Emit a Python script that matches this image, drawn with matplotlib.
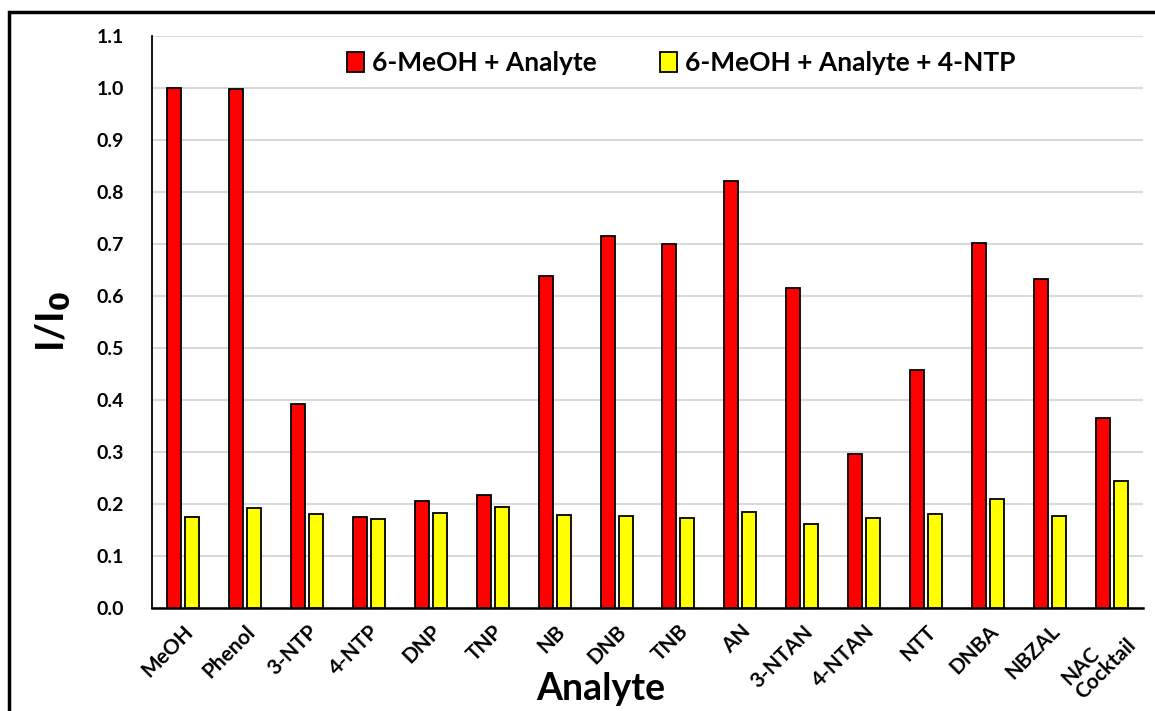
import numpy as np
import matplotlib
matplotlib.use("Agg")
import matplotlib.pyplot as plt
from matplotlib.patches import Rectangle

plt.rcParams['font.family'] = ['Lato', 'DejaVu Sans']

# data
analytes = ["MeOH", "Phenol", "3-NTP", "4-NTP", "DNP", "TNP", "NB", "DNB", "TNB",
            "AN", "3-NTAN", "4-NTAN", "NTT", "DNBA", "NBZAL", "NAC\nCocktail"]
analyte_only = [1.000, 0.998, 0.392, 0.175, 0.205, 0.216, 0.638, 0.715, 0.699,
                0.821, 0.615, 0.296, 0.457, 0.701, 0.633, 0.365]
with_4ntp = [0.175, 0.192, 0.180, 0.171, 0.182, 0.194, 0.178, 0.176, 0.173,
             0.183, 0.161, 0.172, 0.180, 0.208, 0.176, 0.243]
series_names = ["6-MeOH + Analyte", "6-MeOH + Analyte + 4-NTP"]
yticks = np.arange(0, 1.11, 0.1)

fig = plt.figure(figsize=(11.55, 7.11), dpi=100)
ax = fig.add_axes([0.1316, 0.1455, 0.8580, 0.8040])

x = np.arange(len(analytes))
w = 0.226
off = 0.145
ax.bar(x - off, analyte_only, w, color="#ff0000", edgecolor="black", linewidth=1.3,
       label=series_names[0], zorder=3)
ax.bar(x + off, with_4ntp, w, color="#ffff00", edgecolor="black", linewidth=1.3,
       label=series_names[1], zorder=3)

ax.set_xlim(-0.5, len(analytes) - 0.5)
ax.set_ylim(0, 1.1)
ax.set_yticks(yticks)
ax.set_yticklabels([f"{v:.1f}" for v in yticks], fontsize=14, fontweight="bold")
ax.set_xticks(x)
ax.set_xticklabels(analytes, rotation=45, ha="right", rotation_mode="anchor",
                   fontsize=15, fontweight="bold", linespacing=0.95,
                   multialignment="left")
ax.tick_params(axis="both", length=0)
ax.tick_params(axis="x", pad=10)
ax.tick_params(axis="y", pad=20)

ax.yaxis.grid(True, color="#d9d9d9", linewidth=1.5, zorder=0)
ax.set_axisbelow(True)
for s in ["top", "right"]:
    ax.spines[s].set_visible(False)
ax.spines["left"].set_linewidth(1.3)
ax.spines["bottom"].set_linewidth(1.8)

ax.set_ylabel("I/I$_\\mathbf{0}$", fontsize=28, fontweight="bold", labelpad=18)
ax.set_xlabel("Analyte", fontsize=27, fontweight="bold")
ax.xaxis.set_label_coords(0.453, -0.113)

leg = ax.legend(loc="upper center", bbox_to_anchor=(0.534, 1.015), ncol=2, frameon=False,
                prop={"size": 19, "weight": "bold"}, handlelength=0.65, handleheight=0.75,
                handletextpad=0.3, columnspacing=2.4)

# outer frame of the original picture
fig.patches.append(Rectangle((9 / 1155, -0.1), 1.2, 1.1 - 12 / 711,
                             transform=fig.transFigure, fill=False,
                             edgecolor="black", linewidth=2.5))

fig.savefig("out.png", dpi=100)
